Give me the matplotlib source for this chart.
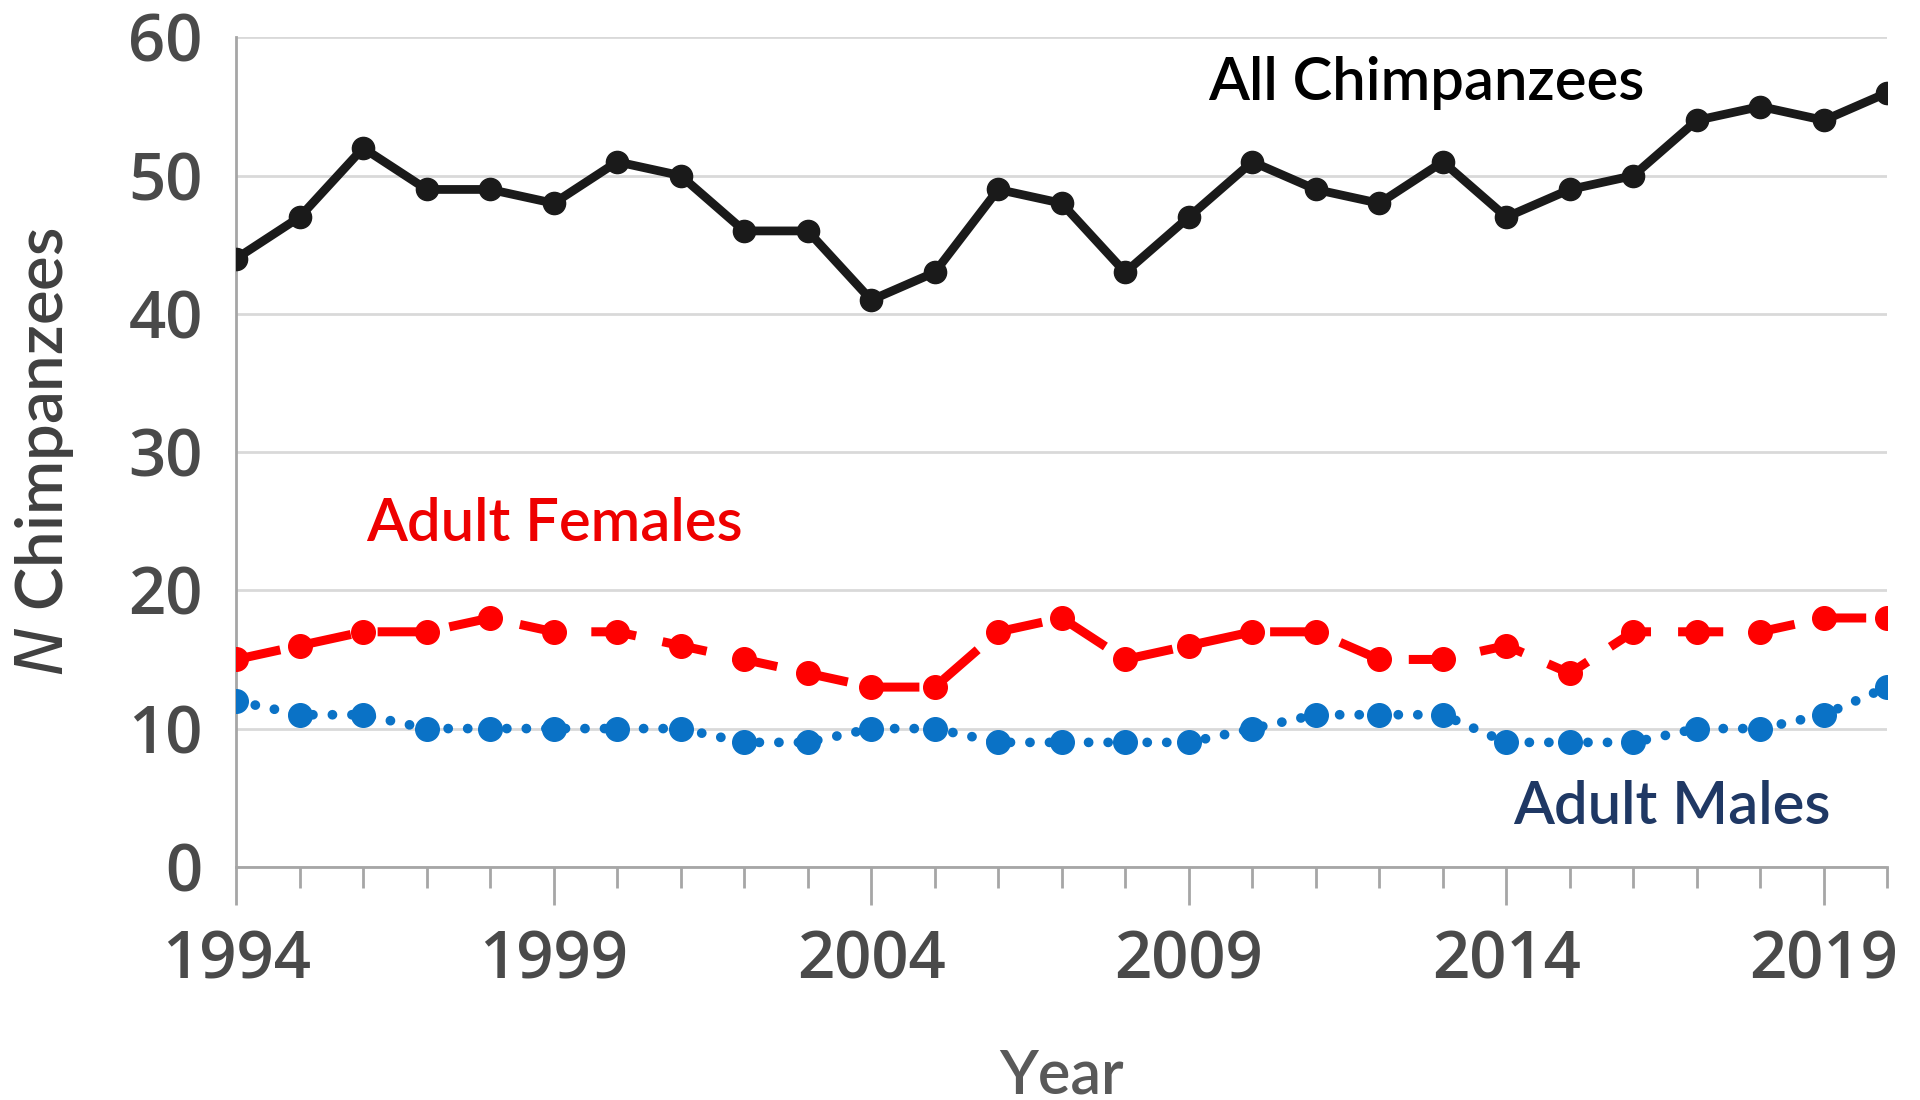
import matplotlib
matplotlib.use("Agg")
import matplotlib.pyplot as plt
from matplotlib.ticker import MultipleLocator, FixedLocator

years = list(range(1994, 2021))
all_chimps = [44, 47, 52, 49, 49, 48, 51, 50, 46, 46, 41, 43, 49, 48, 43, 47,
              51, 49, 48, 51, 47, 49, 50, 54, 55, 54, 56]
adult_females = [15, 16, 17, 17, 18, 17, 17, 16, 15, 14, 13, 13, 17, 18, 15, 16,
                 17, 17, 15, 15, 16, 14, 17, 17, 17, 18, 18]
adult_males = [12, 11, 11, 10, 10, 10, 10, 10, 9, 9, 10, 10, 9, 9, 9, 9,
               10, 11, 11, 11, 9, 9, 9, 10, 10, 11, 13]

major_years = [1994, 1999, 2004, 2009, 2014, 2019]

fig = plt.figure(figsize=(19.2, 11), dpi=100)
ax = fig.add_axes([0.123, 0.212, 0.860, 0.754])

ax.set_xlim(1994, 2020)
ax.set_ylim(0, 60)

# grid
ax.yaxis.set_major_locator(MultipleLocator(10))
ax.grid(axis="y", color="#d9d9d9", linewidth=2.0, zorder=0)
ax.set_axisbelow(True)

for side in ("top", "right"):
    ax.spines[side].set_visible(False)
for side in ("left", "bottom"):
    ax.spines[side].set_color("#a6a6a6")
    ax.spines[side].set_linewidth(2.0)

ax.plot(years, adult_males, color="#0a72c6", linewidth=7.0,
        linestyle=(0, (0.01, 2.0)), dash_capstyle="round",
        marker="o", markersize=17, zorder=3)
ax.plot(years, adult_females, color="#ff0000", linewidth=6.5,
        linestyle=(0, (5, 3)), marker="o", markersize=17, zorder=4)
ax.plot(years, all_chimps, color="#1a1a1a", linewidth=6.3,
        marker="o", markersize=16, zorder=5)

# x ticks
ax.xaxis.set_major_locator(FixedLocator(major_years))
ax.xaxis.set_minor_locator(FixedLocator(years))
ax.tick_params(axis="x", which="major", direction="out", length=27, width=2,
               color="#a6a6a6", pad=18, labelsize=47, labelcolor="#4a4a4a")
ax.tick_params(axis="x", which="minor", direction="out", length=15, width=2,
               color="#a6a6a6")
ax.tick_params(axis="y", which="major", length=0, pad=24, labelsize=47,
               labelcolor="#4a4a4a")
for lab in ax.get_xticklabels() + ax.get_yticklabels():
    lab.set_family("Open Sans")
    lab.set_fontweight("semibold")

ax.set_xlabel("Year", fontsize=44, color="#595959", family="Lato",
              fontweight="semibold")
ax.xaxis.set_label_coords(0.5, -0.218)
ax.set_ylabel(r"$\mathit{N}$ Chimpanzees", fontsize=47, color="#404040",
              family="Lato", fontweight="semibold")
ax.yaxis.set_label_coords(-0.097, 0.5)

ax.text(2009.3, 56.7, "All Chimpanzees", fontsize=43, color="#000000",
        family="Lato", fontweight="semibold", ha="left", va="center")
ax.text(1996.05, 24.8, "Adult Females", fontsize=43, color="#ee0000",
        family="Lato", fontweight="semibold", ha="left", va="center")
ax.text(2014.1, 4.3, "Adult Males", fontsize=43, color="#1f3864",
        family="Lato", fontweight="semibold", ha="left", va="center")

fig.savefig("out.png", dpi=100)
